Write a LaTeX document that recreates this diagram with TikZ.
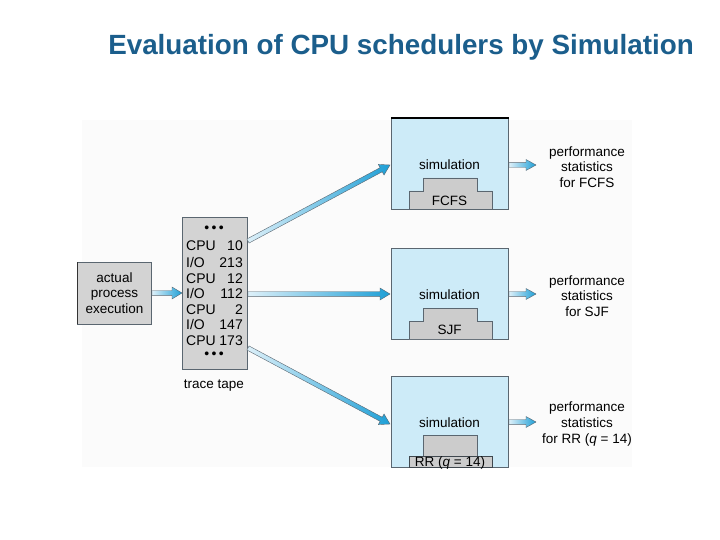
\documentclass[tikz,border=0pt]{standalone}
\usepackage{fontspec}
\setmainfont{Liberation Sans}
\usetikzlibrary{calc}
\definecolor{titleblue}{HTML}{1B5E8C}
\definecolor{simblue}{HTML}{CDEBF8}
\definecolor{tapegray}{HTML}{D3D3D3}
\definecolor{stepgray}{HTML}{CCCCCC}
\definecolor{arrlight}{HTML}{DDF0F9}
\definecolor{arrdark}{HTML}{1E9FD6}
\definecolor{edgegray}{HTML}{5A6670}
\tikzset{
  lbl/.style={inner sep=0pt, font=\fontsize{13.5}{15.6}\selectfont, align=center},
  tl/.style={inner sep=0pt, anchor=base west},
  tr/.style={inner sep=0pt, anchor=base east},
  simbox/.style={fill=simblue, draw=edgegray, line width=0.6pt},
  stepshape/.style={fill=stepgray, draw=edgegray, line width=0.5pt},
  arrowfill/.style={left color=arrlight, right color=arrdark, draw=edgegray, line width=0.4pt},
}
\newcommand\barrow[4]{% start, end, half body, half head ; head length 10pt
  \coordinate (hb) at ($(#2)!10pt!(#1)$);
  \shade[arrowfill] ($(#1)!#3!90:(#2)$) -- ($(hb)!#3!90:(#2)$) -- ($(hb)!#4!90:(#2)$) -- (#2)
    -- ($(hb)!#4!-90:(#2)$) -- ($(hb)!#3!-90:(#2)$) -- ($(#1)!#3!-90:(#2)$) -- cycle;
}
\begin{document}
\begin{tikzpicture}[x=1pt,y=-1pt]
\useasboundingbox (0,0) rectangle (720,540);
\fill[white] (0,0) rectangle (720,540);
% faint panel
\fill[black!1.5] (82,120) rectangle (632,467);
% title
\node[inner sep=0pt, font=\fontsize{27.8}{32}\selectfont\bfseries, text=titleblue] (title) at (401,47) {Evaluation of CPU schedulers by Simulation};

% actual process execution
\node[fill=tapegray, draw=edgegray, line width=0.5pt, minimum width=74pt, minimum height=62pt, inner sep=0pt] (ape) at (114.5,293) {};
\draw[black!80, line width=1.4pt] (ape.south west) -- (ape.north west);
\node[lbl] (apet) at (ape.center) {actual\\process\\execution};

% trace tape
\node[fill=tapegray, draw=edgegray, line width=0.5pt, minimum width=65pt, minimum height=152pt, inner sep=0pt] (tape) at (214.5,293) {};
\begin{scope}[font=\fontsize{14}{16}\selectfont]
\node[inner sep=0pt] (d1) at (214,229) {\textbullet\,\textbullet\,\textbullet};
\node[tl] (c1) at (186,251) {CPU};  \node[tr] (n1) at (243,251) {10};
\node[tl] (c2) at (186,267) {I/O};  \node[tr] (n2) at (243,267) {213};
\node[tl] (c3) at (186,283) {CPU};  \node[tr] (n3) at (243,283) {12};
\node[tl] (c4) at (186,298.5) {I/O};  \node[tr] (n4) at (243,298.5) {112};
\node[tl] (c5) at (186,314) {CPU};  \node[tr] (n5) at (243,314) {2};
\node[tl] (c6) at (186,329.5) {I/O};  \node[tr] (n6) at (243,329.5) {147};
\node[tl] (c7) at (186,345) {CPU};  \node[tr] (n7) at (243,345) {173};
\node[inner sep=0pt] (d2) at (214,355) {\textbullet\,\textbullet\,\textbullet};
\end{scope}
\node[lbl] (tt) at (214,386) {trace tape};

% simulation boxes
\foreach \nm/\top in {s1/118, s2/248, s3/376}{
  \node[simbox, minimum width=117pt, minimum height=91pt, inner sep=0pt, anchor=north west] (\nm) at (391,\top) {};
  \node[lbl] (\nm t) at (449.5,\top+46.5) {simulation};
}
\draw[black, line width=1.6pt] (s1.north west) -- (s1.north east);
% steps
\foreach \nm/\top in {s1/118, s2/248}{
  \draw[stepshape] (409,\top+91) -- (409,\top+73) -- (423,\top+73) -- (423,\top+60) -- (477,\top+60) -- (477,\top+73) -- (492,\top+73) -- (492,\top+91);
}
\draw[stepshape] (423,456) -- (423,435) -- (477,435) -- (477,456);
\draw[stepshape, draw=edgegray!70!black, line width=0.7pt] (409,456) rectangle (492,467);
\node[lbl] (l1) at (449.5,201) {FCFS};
\node[lbl] (l2) at (449.5,330) {SJF};
\node[lbl, anchor=base] (l3) at (450,466) {RR (\textit{q}~=~14)};

% outputs
\node[lbl] (o1) at (587,167) {performance\\statistics\\for FCFS};
\node[lbl] (o2) at (587,296) {performance\\statistics\\for SJF};
\node[lbl] (o3) at (587,424) {performance\\statistics\\for RR (\textit{q}~=~14)};

% arrow endpoints
\coordinate (a0s) at (152,293);  \coordinate (a0e) at (182,293);
\coordinate (a1s) at (248,241);  \coordinate (a1e) at (390,165);
\coordinate (a2s) at (248,294);  \coordinate (a2e) at (390,294);
\coordinate (a3s) at (248,348);  \coordinate (a3e) at (390,424);
\coordinate (b1s) at (509,165);  \coordinate (b1e) at (536,165);
\coordinate (b2s) at (509,294);  \coordinate (b2e) at (536,294);
\coordinate (b3s) at (509,422);  \coordinate (b3e) at (536,422);

\barrow{a0s}{a0e}{2.3pt}{6pt}
\barrow{a1s}{a1e}{2.3pt}{6pt}
\barrow{a2s}{a2e}{2.3pt}{6pt}
\barrow{a3s}{a3e}{2.3pt}{6pt}
\barrow{b1s}{b1e}{2.3pt}{5.5pt}
\barrow{b2s}{b2e}{2.3pt}{5.5pt}
\barrow{b3s}{b3e}{2.3pt}{5.5pt}
\end{tikzpicture}
\end{document}
